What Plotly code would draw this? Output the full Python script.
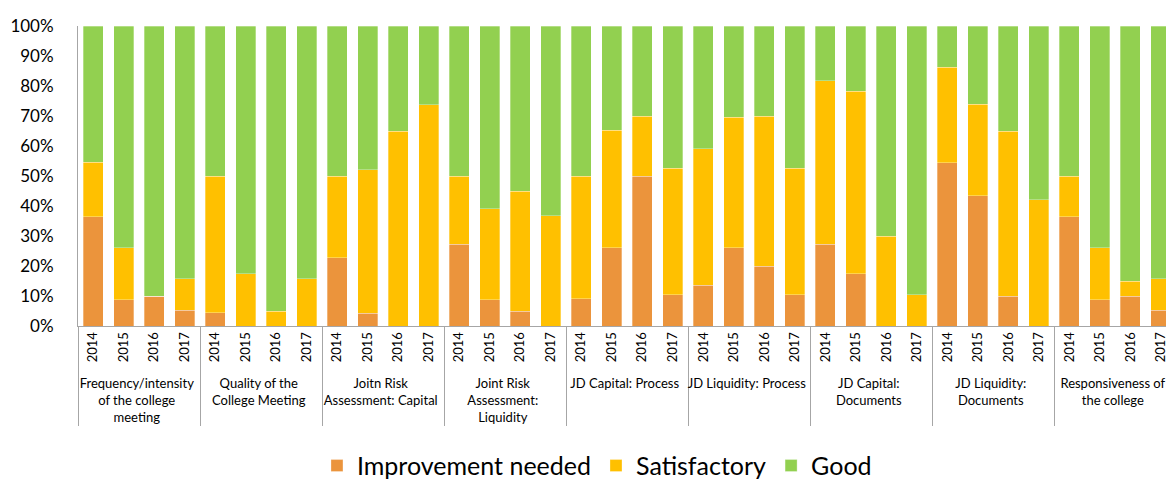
import plotly.graph_objects as go

groups = [
    "Frequency/intensity<br>of the college<br>meeting",
    "Quality of the<br>College Meeting",
    "Joitn Risk<br>Assessment: Capital",
    "Joint Risk<br>Assessment:<br>Liquidity",
    "JD Capital: Process",
    "JD Liquidity: Process",
    "JD Capital:<br>Documents",
    "JD Liquidity:<br>Documents",
    "Responsiveness of<br>the college",
]
years = ["2014", "2015", "2016", "2017"]

# percentages per group, years 2014..2017
improvement = [
    [36.4, 8.7, 10.0, 5.3],
    [4.5, 0.0, 0.0, 0.0],
    [22.7, 4.3, 0.0, 0.0],
    [27.3, 8.7, 5.0, 0.0],
    [9.1, 26.1, 50.0, 10.5],
    [13.6, 26.1, 20.0, 10.5],
    [27.3, 17.4, 0.0, 0.0],
    [54.5, 43.5, 10.0, 0.0],
    [36.4, 8.7, 10.0, 5.3],
]
satisfactory = [
    [18.2, 17.4, 0.0, 10.5],
    [45.5, 17.4, 5.0, 15.8],
    [27.3, 47.8, 65.0, 73.7],
    [22.7, 30.4, 40.0, 36.8],
    [40.9, 39.1, 20.0, 42.1],
    [45.5, 43.5, 50.0, 42.1],
    [54.5, 60.9, 30.0, 10.5],
    [31.8, 30.4, 55.0, 42.1],
    [13.6, 17.4, 5.0, 10.5],
]
good = [
    [45.4, 73.9, 90.0, 84.2],
    [50.0, 82.6, 95.0, 84.2],
    [50.0, 47.9, 35.0, 26.3],
    [50.0, 60.9, 55.0, 63.2],
    [50.0, 34.8, 30.0, 47.4],
    [40.9, 30.4, 30.0, 47.4],
    [18.2, 21.7, 70.0, 89.5],
    [13.7, 26.1, 35.0, 57.9],
    [50.0, 73.9, 85.0, 84.2],
]

series_names = ["Improvement needed", "Satisfactory", "Good"]
series_data = [improvement, satisfactory, good]
colors = ["#EB943C", "#FFC000", "#92D050"]

xg = [g for g in groups for _ in years]
xy = [y for _ in groups for y in years]

fig = go.Figure()
for name, data, col in zip(series_names, series_data, colors):
    vals = [v / 100 for row in data for v in row]
    fig.add_trace(go.Bar(
        x=[xg, xy], y=vals, name=name,
        marker=dict(color=col, line=dict(color="rgba(255,255,255,0.6)", width=0.5)),
    ))

FONT = "Lato"
fig.update_layout(
    barmode="stack",
    bargap=0.35,
    width=1166, height=480,
    margin=dict(l=78, r=0, t=26, b=154, autoexpand=False),
    plot_bgcolor="white", paper_bgcolor="white",
    font=dict(family=FONT, color="#000000"),
    showlegend=True,
    legend=dict(orientation="h", x=0.477, xanchor="center", y=-0.466, yanchor="middle",
                font=dict(size=25, family=FONT), traceorder="normal"),
)
fig.update_yaxes(
    range=[0, 1], tickformat=".0%", dtick=0.1, showgrid=False, zeroline=False,
    showline=True, linecolor="#A6A6A6", linewidth=1, ticks="", automargin=False,
    tickfont=dict(size=17, family=FONT), ticklabelstandoff=20,
)
fig.update_xaxes(
    type="multicategory", range=[-0.5, 35.17], automargin=False,
    showline=True, linecolor="#A6A6A6", linewidth=1, ticks="",
    showdividers=True, dividercolor="#A6A6A6", dividerwidth=1,
    tickangle=-90, tickfont=dict(size=13, family=FONT),
)
fig.write_html("out.html")
